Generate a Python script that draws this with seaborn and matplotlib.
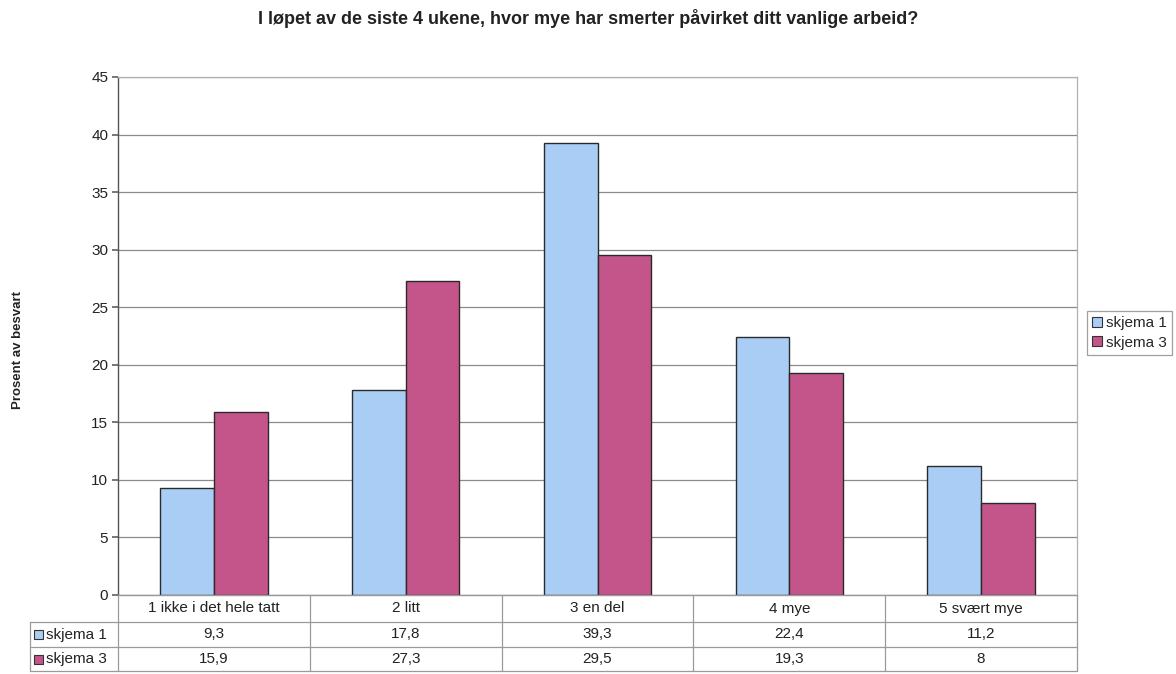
import matplotlib
matplotlib.use("Agg")
import matplotlib.pyplot as plt
import matplotlib.patches as mpatches
from matplotlib.lines import Line2D
import seaborn as sns
import pandas as pd

categories = ["1 ikke i det hele tatt", "2 litt", "3 en del", "4 mye", "5 svært mye"]
series_names = ["skjema 1", "skjema 3"]
skjema1 = [9.3, 17.8, 39.3, 22.4, 11.2]
skjema3 = [15.9, 27.3, 29.5, 19.3, 8]
table_text = {
    "skjema 1": ["9,3", "17,8", "39,3", "22,4", "11,2"],
    "skjema 3": ["15,9", "27,3", "29,5", "19,3", "8"],
}
y_ticks = [0, 5, 10, 15, 20, 25, 30, 35, 40, 45]
colors = ["#a9cdf4", "#c4558a"]

df = pd.DataFrame({
    "kategori": categories * 2,
    "serie": [series_names[0]] * 5 + [series_names[1]] * 5,
    "verdi": skjema1 + skjema3,
})

sns.set_theme(style="white")
plt.rcParams["font.family"] = ["Liberation Sans", "DejaVu Sans"]

W, H = 1176, 674
fig = plt.figure(figsize=(W / 100, H / 100), dpi=100)
fig.patch.set_facecolor("white")

x0, x1, ytop, ybot = 118, 1077, 77, 595
ax = fig.add_axes([x0 / W, 1 - ybot / H, (x1 - x0) / W, (ybot - ytop) / H])

sns.barplot(data=df, x="kategori", y="verdi", hue="serie", order=categories,
            hue_order=series_names, palette=colors, saturation=1, width=0.56, gap=0,
            edgecolor="#2a2a2a", linewidth=1.0, ax=ax, legend=False, zorder=3)

ax.set_ylim(0, 45)
ax.set_xlim(-0.5, len(categories) - 0.5)
ax.set_yticks(y_ticks)
ax.set_yticklabels([str(t) for t in y_ticks], fontsize=11, color="#222222")
ax.set_xticks([])
ax.set_xlabel("")
ax.set_ylabel("")
ax.yaxis.grid(True, color="#8a8a8a", linewidth=0.9, zorder=0)
ax.tick_params(axis="y", length=4, color="#666666", left=True, pad=3)
for side in ["top", "right", "bottom"]:
    ax.spines[side].set_color("#b0b0b0")
    ax.spines[side].set_linewidth(0.9)
ax.spines["left"].set_color("#555555")
ax.spines["left"].set_linewidth(1.0)

fig.text(0.5, 1 - 18 / H, "I løpet av de siste 4 ukene, hvor mye har smerter påvirket ditt vanlige arbeid?",
         ha="center", va="center", fontsize=13, fontweight="bold", color="#222222")
fig.text(18 / W, 1 - 350 / H, "Prosent av besvart", rotation=90, ha="center", va="center",
         fontsize=9.5, fontweight="bold", color="#222222")

# data table under the plot
line_kw = dict(color="#9a9a9a", linewidth=0.9, transform=fig.transFigure)
row_y = [595, 622, 647, 671]
label_left = 30
col_w = (x1 - x0) / len(categories)

def fx(px):
    return px / W

def fy(py):
    return 1 - py / H

# horizontal lines
fig.add_artist(Line2D([fx(x0), fx(x1)], [fy(row_y[0])] * 2, **line_kw))
for yy in row_y[1:]:
    fig.add_artist(Line2D([fx(label_left), fx(x1)], [fy(yy)] * 2, **line_kw))
# vertical lines
fig.add_artist(Line2D([fx(label_left)] * 2, [fy(row_y[1]), fy(row_y[3])], **line_kw))
for i in range(len(categories) + 1):
    xx = x0 + i * col_w
    fig.add_artist(Line2D([fx(xx)] * 2, [fy(row_y[0]), fy(row_y[3])], **line_kw))

for i, cat in enumerate(categories):
    cx = x0 + (i + 0.5) * col_w
    fig.text(fx(cx), fy((row_y[0] + row_y[1]) / 2), cat, ha="center", va="center",
             fontsize=11, color="#222222")
    for r, name in enumerate(series_names):
        fig.text(fx(cx), fy((row_y[r + 1] + row_y[r + 2]) / 2), table_text[name][i],
                 ha="center", va="center", fontsize=11, color="#222222")

for r, name in enumerate(series_names):
    yc = (row_y[r + 1] + row_y[r + 2]) / 2
    fig.add_artist(mpatches.Rectangle((fx(34), fy(yc + 4.5)), 9 / W, 9 / H,
                                      facecolor=colors[r], edgecolor="#333333",
                                      linewidth=0.8, transform=fig.transFigure))
    fig.text(fx(46), fy(yc), name, ha="left", va="center", fontsize=11, color="#222222")

# legend
handles = [mpatches.Patch(facecolor=c, edgecolor="#333333", linewidth=0.8, label=n)
           for c, n in zip(colors, series_names)]
leg = fig.legend(handles=handles, loc="center left", bbox_to_anchor=(1087 / W, 1 - 333 / H),
                 frameon=True, fontsize=11, handlelength=0.6, handleheight=0.6,
                 handletextpad=0.3, borderpad=0.35, labelspacing=0.35, fancybox=False,
                 borderaxespad=0)
leg.get_frame().set_edgecolor("#888888")
leg.get_frame().set_linewidth(0.9)

fig.savefig("out.png", dpi=100, facecolor="white")
